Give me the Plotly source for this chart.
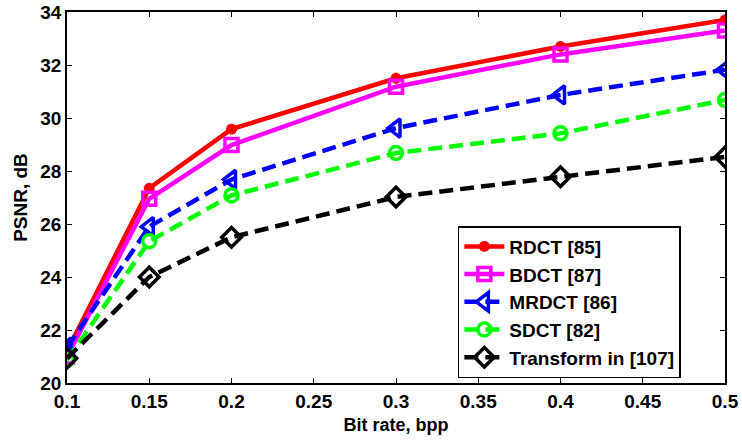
import plotly.graph_objects as go

bit_rate = [0.1, 0.15, 0.2, 0.3, 0.4, 0.5]
rdct = [21.2, 27.35, 29.58, 31.5, 32.7, 33.7]
bdct = [21.0, 26.95, 28.98, 31.18, 32.4, 33.3]
mrdct = [21.35, 25.9, 27.68, 29.62, 30.87, 31.82]
sdct = [20.87, 25.35, 27.08, 28.68, 29.42, 30.68]
transform107 = [20.93, 24.0, 25.5, 27.02, 27.78, 28.53]
x_ticks = [0.1, 0.15, 0.2, 0.25, 0.3, 0.35, 0.4, 0.45, 0.5]
y_ticks = [20, 22, 24, 26, 28, 30, 32, 34]

series = [
    ("RDCT [85]", rdct, "#ff0000", "solid", "asterisk-open", 9),
    ("BDCT [87]", bdct, "#ff00ff", "solid", "square-open", 13),
    ("MRDCT [86]", mrdct, "#0000ff", "14px,7px", "triangle-left-open", 16),
    ("SDCT [82]", sdct, "#00ff00", "14px,7px", "circle-open", 13),
    ("Transform in [107]", transform107, "#000000", "14px,7px", "diamond-open", 15),
]

fig = go.Figure()
for name, ys, color, dash, sym, size in series:
    fig.add_trace(go.Scatter(
        x=bit_rate, y=ys, name="<b>" + name + "</b>", mode="lines+markers",
        line=dict(color=color, width=4.5, dash=dash),
        marker=dict(symbol=sym, size=size, color=color,
                    line=dict(color=color, width=3.5)),
    ))

font = "Arial"
axis_common = dict(
    showgrid=False, zeroline=False, showline=True, linecolor="black",
    linewidth=1.5, mirror="allticks", ticks="inside", ticklen=5,
    tickcolor="black", tickwidth=1, automargin=False,
    ticklabeloverflow="allow",
    tickfont=dict(family=font, size=19, color="black", weight=700),
)
fig.update_xaxes(range=[0.1, 0.5], tickvals=x_ticks,
                 ticktext=["<b>%g</b>" % v for v in x_ticks],
                 title=dict(text="<b>Bit rate, bpp</b>", standoff=8,
                            font=dict(family=font, size=18, color="black", weight=700)),
                 **axis_common)
fig.update_yaxes(range=[20, 34], tickvals=y_ticks,
                 ticktext=["<b>%d</b>" % v for v in y_ticks],
                 title=dict(text="<b>PSNR, dB</b>", standoff=8,
                            font=dict(family=font, size=19, color="black", weight=700)),
                 **axis_common)

fig.update_layout(
    width=742, height=444,
    margin=dict(l=67, r=17, t=12, b=61),
    paper_bgcolor="white", plot_bgcolor="white",
    legend=dict(x=0.594, y=0.423, xanchor="left", yanchor="top",
                bgcolor="white", bordercolor="black", borderwidth=1.5,
                font=dict(family=font, size=19, color="black", weight=700),
                tracegroupgap=0, itemwidth=40),
    showlegend=True,
)
fig.write_html("out.html", config={"displayModeBar": False},
               post_script="document.body.style.margin='0';document.body.style.overflow='hidden';")
